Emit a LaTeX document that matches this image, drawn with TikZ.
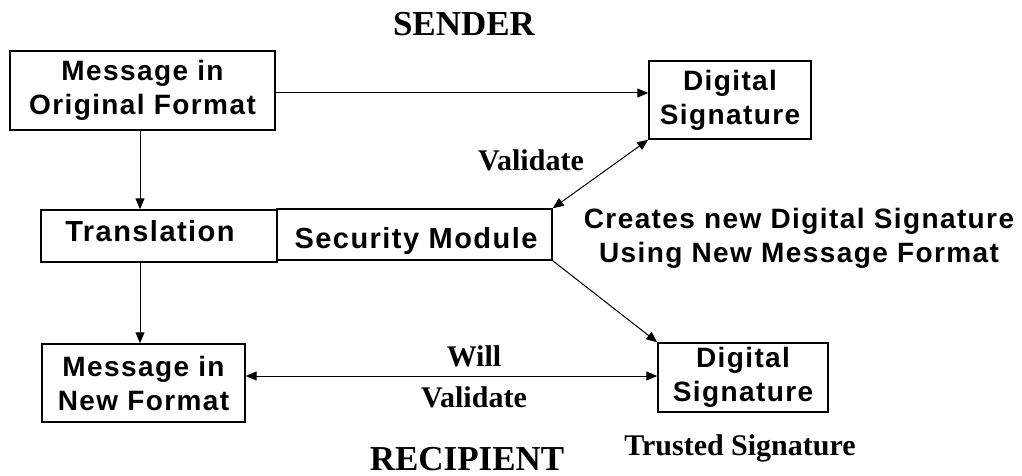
\documentclass[tikz,border=0pt]{standalone}
\usepackage{fontspec}
\usetikzlibrary{arrows.meta}
\newfontfamily\boxfont[LetterSpace=5]{Liberation Sans}
\newfontfamily\labelfont{Liberation Serif}
\begin{document}
\begin{tikzpicture}[x=1pt,y=-1pt,
  box/.style={draw, line width=1.4pt, inner sep=0pt, align=center,
    font=\fontsize{28}{34}\selectfont\boxfont\bfseries},
  note/.style={inner sep=0pt, anchor=base,
    font=\fontsize{28}{34}\selectfont\boxfont\bfseries},
  wide/.style={inner sep=0pt, anchor=base,
    font=\fontsize{29}{34}\selectfont\boxfont\bfseries},
  tag/.style={inner sep=0pt, anchor=base, font=\fontsize{30}{34}\selectfont\labelfont\bfseries},
  head/.style={inner sep=0pt, anchor=base, font=\fontsize{35}{40}\selectfont\labelfont\bfseries},
  tip/.tip={Triangle[length=11pt,width=9pt]},
  link/.style={line width=1pt, -tip},
  both/.style={line width=1pt, tip-tip}]
\useasboundingbox (0,0) rectangle (1022,476);

% titles
\node[head] (sender) at (464,36) {SENDER};
\node[head] (recipient) at (467,470) {RECIPIENT};

% boxes
\node[box, minimum width=265, minimum height=79] (orig) at (142.5,90.5) {Message in\\Original Format};
\node[box, minimum width=162, minimum height=78] (sigtop) at (730,100) {Digital\\Signature};
\node[box, minimum width=236, minimum height=52] (trans) at (159,236) {};
\node[wide] (transtxt) at (150,241) {Translation};
\node[box, minimum width=275, minimum height=51] (secmod) at (414.5,234.5) {};
\node[wide] (sectxt) at (416,248) {Security Module};
\node[box, minimum width=203, minimum height=78] (newfmt) at (143.5,383) {Message in\\New Format};
\node[box, minimum width=170, minimum height=69] (sigbot) at (743,377.5) {Digital\\Signature};

% labels
\node[tag] (validate) at (531,170) {Validate};
\node[note] (creates) at (799,228) {Creates new Digital Signature};
\node[note] (using) at (799,262) {Using New Message Format};
\node[tag] (will) at (474,366) {Will};
\node[tag] (willval) at (474,407) {Validate};
\node[tag] (trusted) at (740,455) {Trusted Signature};

% connectors
\draw[link] (orig.east |- 0,93) -- (sigtop.west |- 0,93);
\draw[both] (sigtop.south west) -- (secmod.north east);
\draw[link] (secmod.south east) -- (sigbot.north west);
\draw[link] (orig.south -| 140,0) -- (trans.north -| 140,0);
\draw[link] (trans.south -| 140,0) -- (newfmt.north -| 140,0);
\draw[both] (newfmt.east |- 0,376) -- (sigbot.west |- 0,376);
\end{tikzpicture}
\end{document}
